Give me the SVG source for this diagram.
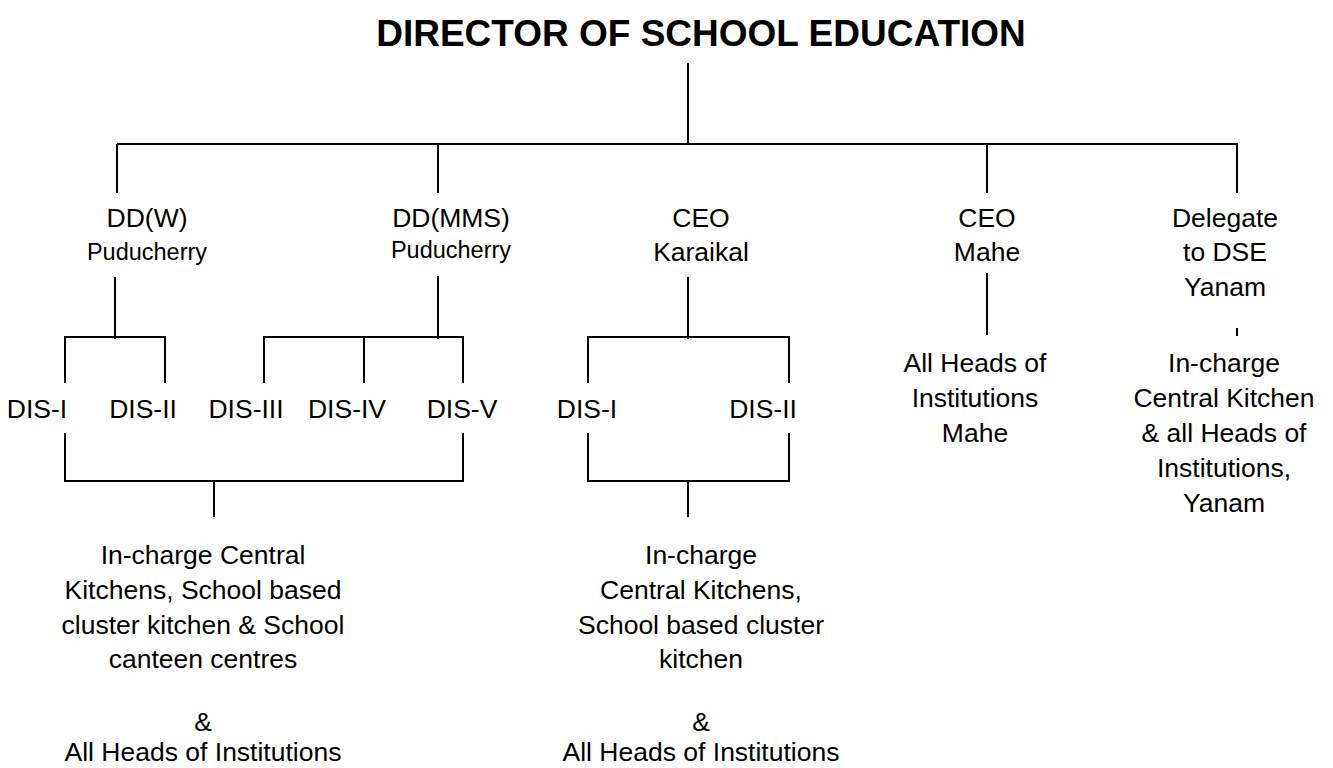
<svg xmlns="http://www.w3.org/2000/svg" width="1333" height="768" viewBox="0 0 1333 768">
<style>
text{font-family:"Liberation Sans",Arial,sans-serif;fill:#000;text-anchor:middle;font-size:26.5px}
.title{font-weight:bold;font-size:37px}
.small{font-size:23.5px}
.conn line{stroke:#000;stroke-width:2;fill:none}
</style>
<rect width="1333" height="768" fill="#fff"/>
<g id="connectors" class="conn">
<line x1="688" y1="63" x2="688" y2="145"/>
<line x1="117" y1="144" x2="1238" y2="144"/>
<line x1="117" y1="144" x2="117" y2="193"/>
<line x1="438" y1="144" x2="438" y2="193"/>
<line x1="987" y1="144" x2="987" y2="193"/>
<line x1="1237" y1="144" x2="1237" y2="193"/>
<line x1="115" y1="277" x2="115" y2="339"/>
<line x1="64" y1="337" x2="166" y2="337"/>
<line x1="65" y1="337" x2="65" y2="383"/>
<line x1="165" y1="337" x2="165" y2="383"/>
<line x1="438" y1="276" x2="438" y2="339"/>
<line x1="263" y1="337" x2="464" y2="337"/>
<line x1="264" y1="337" x2="264" y2="383"/>
<line x1="364" y1="337" x2="364" y2="383"/>
<line x1="463" y1="337" x2="463" y2="383"/>
<line x1="688" y1="277" x2="688" y2="339"/>
<line x1="587" y1="337" x2="790" y2="337"/>
<line x1="588" y1="337" x2="588" y2="383"/>
<line x1="789" y1="337" x2="789" y2="383"/>
<line x1="987" y1="273" x2="987" y2="335"/>
<line x1="1237" y1="328" x2="1237" y2="336"/>
<line x1="65" y1="433" x2="65" y2="482"/>
<line x1="463" y1="433" x2="463" y2="482"/>
<line x1="64" y1="481" x2="464" y2="481"/>
<line x1="214" y1="481" x2="214" y2="517"/>
<line x1="588" y1="433" x2="588" y2="482"/>
<line x1="789" y1="433" x2="789" y2="482"/>
<line x1="587" y1="481" x2="790" y2="481"/>
<line x1="688" y1="481" x2="688" y2="517"/>
</g>
<g id="director"><text class="title" x="701" y="46">DIRECTOR OF SCHOOL EDUCATION</text></g>
<g id="ddw"><text x="147" y="227">DD(W)</text><text class="small" x="147" y="260">Puducherry</text></g>
<g id="ddmms"><text x="451" y="227">DD(MMS)</text><text class="small" x="451" y="258">Puducherry</text></g>
<g id="ceo-karaikal"><text x="701" y="227">CEO</text><text x="701" y="261">Karaikal</text></g>
<g id="ceo-mahe"><text x="987" y="227">CEO</text><text x="987" y="261">Mahe</text></g>
<g id="delegate-yanam"><text x="1225" y="227">Delegate</text><text x="1225" y="261">to DSE</text><text x="1225" y="296">Yanam</text></g>
<g id="dis-1"><text x="37" y="418">DIS-I</text></g>
<g id="dis-2"><text x="143" y="418">DIS-II</text></g>
<g id="dis-3"><text x="246" y="418">DIS-III</text></g>
<g id="dis-4"><text x="347" y="418">DIS-IV</text></g>
<g id="dis-5"><text x="462" y="418">DIS-V</text></g>
<g id="dis-k1"><text x="587" y="418">DIS-I</text></g>
<g id="dis-k2"><text x="763" y="418">DIS-II</text></g>
<g id="heads-mahe"><text x="975" y="372">All Heads of</text><text x="975" y="407">Institutions</text><text x="975" y="442">Mahe</text></g>
<g id="heads-yanam"><text x="1224" y="372">In-charge</text><text x="1224" y="407">Central Kitchen</text><text x="1224" y="442">&amp; all Heads of</text><text x="1224" y="477">Institutions,</text><text x="1224" y="512">Yanam</text></g>
<g id="kitchens-puducherry"><text x="203" y="564">In-charge Central</text><text x="203" y="599">Kitchens, School based</text><text x="203" y="634">cluster kitchen &amp; School</text><text x="203" y="668">canteen centres</text><text x="203" y="731">&amp;</text><text x="203" y="761">All Heads of Institutions</text></g>
<g id="kitchens-karaikal"><text x="701" y="564">In-charge</text><text x="701" y="599">Central Kitchens,</text><text x="701" y="634">School based cluster</text><text x="701" y="668">kitchen</text><text x="701" y="731">&amp;</text><text x="701" y="761">All Heads of Institutions</text></g>
</svg>
